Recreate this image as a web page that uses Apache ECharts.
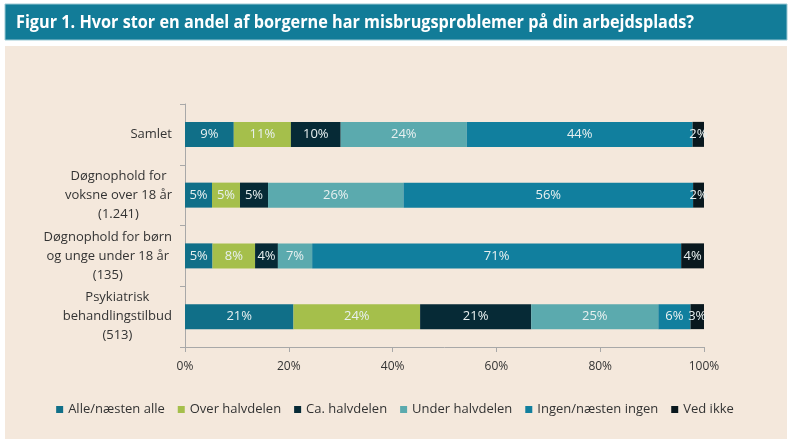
<!DOCTYPE html>
<html>
<head>
<meta charset="utf-8">
<script src="https://cdn.jsdelivr.net/npm/echarts@6/dist/echarts.min.js"></script>
<style>
html,body{margin:0;padding:0;background:#fff;}
#c{width:790px;height:445px;}
</style>
</head>
<body>
<div id="c"></div>
<script>
const titleText = 'Figur 1. Hvor stor en andel af borgerne har misbrugsproblemer på din arbejdsplads?';
const categories = [
  'Samlet',
  'Døgnophold for\nvoksne over 18 år\n(1.241)',
  'Døgnophold for børn\nog unge under 18 år\n(135)',
  'Psykiatrisk\nbehandlingstilbud\n(513)'
];
const seriesNames = ['Alle/næsten alle', 'Over halvdelen', 'Ca. halvdelen', 'Under halvdelen', 'Ingen/næsten ingen', 'Ved ikke'];
const alleNaestenAlle   = [9.4, 5.2, 5.3, 20.9];
const overHalvdelen     = [11.0, 5.4, 8.2, 24.4];
const caHalvdelen       = [9.6, 5.4, 4.4, 21.4];
const underHalvdelen    = [24.3, 26.1, 6.6, 24.5];
const ingenNaestenIngen = [43.5, 55.8, 71.1, 6.2];
const vedIkke           = [2.2, 2.1, 4.4, 2.6];
const xTicks = [0, 20, 40, 60, 80, 100];

const colors = ['#106f88', '#a5bf4b', '#062a36', '#5baaae', '#117f9e', '#09181e'];
const allData = [alleNaestenAlle, overHalvdelen, caHalvdelen, underHalvdelen, ingenNaestenIngen, vedIkke];
const FONT = '"Open Sans", "Noto Sans", sans-serif';

// fit title width to reference (condensed face)
const titleFont = 'bold 18px "Open Sans", sans-serif';
const ctx = document.createElement('canvas').getContext('2d');
ctx.font = titleFont;
const titleScale = 678 / ctx.measureText(titleText).width;

const chart = echarts.init(document.getElementById('c'), null, {renderer: 'canvas'});
chart.setOption({
  animation: false,
  backgroundColor: '#ffffff',
  textStyle: {fontFamily: FONT},
  graphic: [
    {type: 'rect', silent: true, z: -10, shape: {x: 5, y: 4, width: 782, height: 36}, style: {fill: '#127c98', stroke: '#9cc9d4', lineWidth: 1}},
    {type: 'rect', silent: true, z: -10, shape: {x: 5, y: 46, width: 782, height: 393}, style: {fill: '#f4e8dc'}},
    {type: 'text', z: 10, x: 16, y: 23, scaleX: titleScale, style: {text: titleText, fill: '#ffffff', font: titleFont, textVerticalAlign: 'middle'}}
  ],
  legend: {
    data: seriesNames,
    left: 'center',
    top: 398,
    itemWidth: 7,
    itemHeight: 7,
    itemGap: 13,
    icon: 'rect',
    textStyle: {fontSize: 13, color: '#333', fontFamily: FONT}
  },
  grid: {left: 185, right: 86, top: 104, bottom: 98, containLabel: false},
  xAxis: {
    type: 'value',
    min: 0, max: 100, interval: 20,
    axisLine: {show: true, lineStyle: {color: '#a8a8a8'}},
    axisTick: {show: true, length: 5, lineStyle: {color: '#a8a8a8'}},
    splitLine: {show: false},
    axisLabel: {formatter: v => v + '%', color: '#333', fontSize: 12, margin: 14, fontFamily: FONT}
  },
  yAxis: {
    type: 'category',
    inverse: true,
    data: categories,
    axisLine: {show: true, lineStyle: {color: '#a8a8a8'}},
    axisTick: {show: true, length: 5, lineStyle: {color: '#a8a8a8'}},
    axisLabel: {
      margin: 13,
      color: '#333',
      fontSize: 13,
      fontFamily: FONT,
      formatter: v => v.split('\n').map(l => '{c|' + l + '}').join('\n'),
      rich: {c: {align: 'center', fontSize: 13, lineHeight: 19, color: '#333', fontFamily: FONT}}
    }
  },
  series: seriesNames.map((name, i) => ({
    name: name,
    type: 'bar',
    stack: 'total',
    barWidth: 25,
    itemStyle: {color: colors[i]},
    label: {
      show: true,
      position: 'inside',
      color: '#e8f0f0',
      fontSize: 13,
      fontFamily: FONT,
      formatter: p => Math.round(p.value) + '%'
    },
    data: allData[i]
  }))
});
</script>
</body>
</html>
